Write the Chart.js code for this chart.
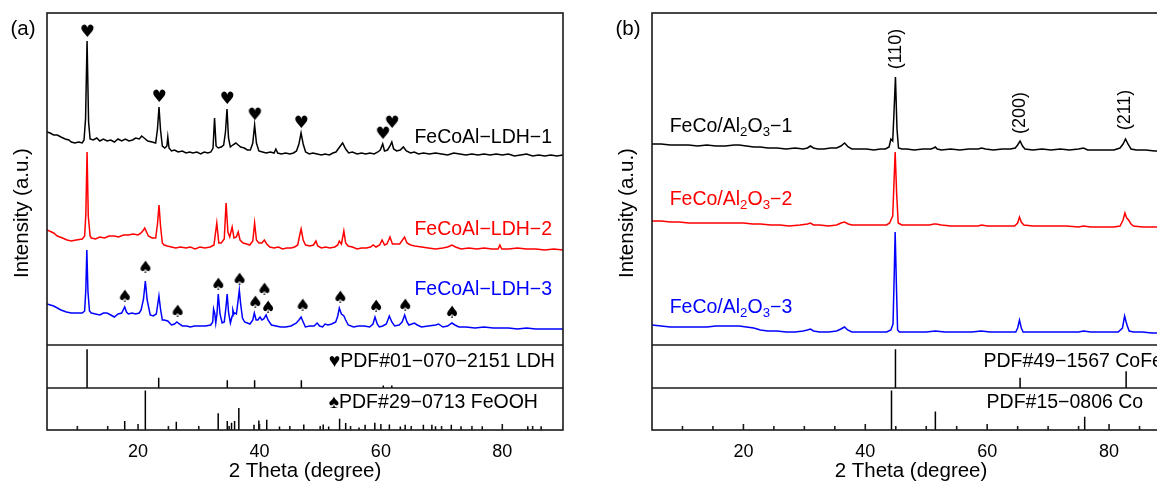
<!DOCTYPE html>
<html>
<head>
<meta charset="utf-8">
<script src="https://cdn.jsdelivr.net/npm/chart.js@4.4.0/dist/chart.umd.min.js"></script>
<style>
html, body { margin: 0; padding: 0; background: #fff; overflow: hidden; width: 1157px; height: 484px; }
#wrap { position: relative; width: 1157px; height: 484px; overflow: hidden; }
canvas { position: absolute; top: 0; }
#ca { left: 0; }
#cb { left: 600px; }
</style>
</head>
<body>
<div id="wrap">
  <canvas id="ca" width="600" height="484"></canvas>
  <canvas id="cb" width="600" height="484"></canvas>
</div>
<script>
// x axis: 2 Theta (degree)
var xTicks = [20, 40, 60, 80];
var xMinor = [10, 15, 25, 30, 35, 45, 50, 55, 65, 70, 75, 85];

// ---- panel (a): FeCoAl-LDH, [2theta, intensity a.u.] ----
var ldh1 = [[5.0,212],[5.5,211],[6.1,209],[6.7,209],[7.3,207],[8.0,205],[8.6,204],[9.0,202],[9.6,201],[10.2,202],[10.8,201],[11.1,204],[11.35,225],[11.6,303],[11.85,222],[12.1,205],[12.6,204],[13.2,206],[13.7,203],[14.3,205],[14.9,203],[15.5,204],[16.1,202],[16.7,205],[17.3,203],[17.9,205],[18.5,203],[19.1,204],[19.6,206],[20.2,205],[20.6,208],[21.0,206],[21.6,203],[22.3,202],[22.9,201],[23.2,215],[23.45,237],[23.7,214],[24.0,198],[24.4,196],[24.75,198],[24.9,207],[25.1,196],[25.5,193],[26.0,194],[26.6,192],[27.3,193],[27.9,191],[28.5,192],[29.0,191],[29.7,192],[30.3,190],[30.9,192],[31.5,191],[32.0,192],[32.35,196],[32.6,226],[32.85,198],[33.2,196],[33.7,197],[34.1,199],[34.4,212],[34.65,235],[34.9,206],[35.2,197],[35.6,199],[36.1,201],[36.5,199],[36.9,197],[37.5,196],[38.0,194],[38.5,194],[38.9,201],[39.2,219],[39.5,201],[39.9,193],[40.5,192],[41.1,191],[41.8,192],[42.4,191],[42.7,195],[43.0,191],[43.6,190],[44.3,191],[45.0,190],[45.6,191],[46.1,193],[46.5,200],[46.85,211],[47.2,200],[47.6,192],[48.2,190],[48.8,191],[49.5,190],[50.2,189],[50.8,190],[51.5,189],[52.1,191],[52.6,192],[53.2,197],[53.7,201],[54.2,195],[54.7,191],[55.3,192],[56.1,190],[56.8,191],[57.5,190],[58.2,191],[58.9,190],[59.5,192],[59.9,194],[60.3,200],[60.6,193],[61.1,194],[61.5,198],[61.8,202],[62.1,195],[62.6,193],[63.2,194],[63.7,197],[64.2,193],[64.9,191],[65.5,192],[66.2,190],[67.0,191],[68.0,190],[69.0,191],[70.0,190],[71.0,189],[72.0,191],[73.0,190],[74.0,189],[75.0,190],[76.0,189],[77.0,190],[78.0,189],[79.0,190],[80.0,189],[81.0,190],[82.0,188],[83.0,189],[84.0,190],[85.0,188],[86.0,189],[87.0,188],[88.0,189],[89.0,188],[90.0,189]];
var ldh2 = [[5.0,114],[6.1,111],[6.7,108],[7.55,106],[8.3,104],[9.0,103],[9.8,104],[10.8,105],[11.2,108],[11.4,130],[11.6,192],[11.8,128],[12.1,108],[12.3,106],[13.0,105],[13.7,107],[14.5,106],[15.2,108],[16.1,108],[16.8,107],[17.6,109],[18.4,109],[19.2,110],[20.0,109],[20.5,111],[20.9,114],[21.1,116],[21.4,112],[21.7,108],[22.3,106],[22.9,106],[23.2,120],[23.45,139],[23.7,118],[24.0,101],[24.3,99],[24.8,98],[25.5,97],[26.2,96],[27.0,97],[27.9,96],[28.6,97],[29.4,95],[30.2,97],[31.0,96],[31.9,97],[32.5,99],[32.97,121],[33.3,101],[33.7,101],[34.2,105],[34.5,141],[34.8,112],[35.1,107],[35.5,117],[35.8,106],[36.2,107],[36.5,112],[36.8,104],[37.3,101],[37.9,100],[38.4,99],[38.9,103],[39.2,121],[39.5,104],[39.9,101],[40.4,101],[40.8,104],[41.2,100],[41.7,97],[42.4,96],[43.1,97],[43.8,95],[44.5,96],[45.2,96],[45.8,97],[46.3,99],[46.6,108],[46.86,115],[47.2,104],[47.6,99],[48.3,98],[48.9,99],[49.3,103],[49.6,98],[50.2,96],[50.9,97],[51.6,96],[52.4,97],[52.9,99],[53.15,103],[53.5,100],[53.9,113],[54.2,101],[54.6,98],[55.3,97],[56.1,95],[56.8,96],[57.6,96],[58.3,97],[58.74,99],[59.2,97],[59.8,99],[60.2,104],[60.6,99],[61.0,100],[61.5,107],[61.9,100],[62.3,100],[63.1,100],[63.9,107],[64.3,101],[64.9,99],[65.6,98],[66.7,97],[67.8,96],[69.0,95],[70.2,96],[71.0,97],[71.7,99],[72.3,97],[73.2,95],[74.5,96],[75.8,95],[77.0,96],[78.3,95],[79.3,95],[79.6,99],[79.9,95],[81.0,95],[82.5,96],[84.0,95],[85.5,95],[87.0,94],[88.5,95],[90.0,94]];
var ldh3 = [[5.0,40],[6.1,38],[7.3,34],[8.2,32],[9.0,31],[9.9,31],[10.8,31],[11.2,33],[11.4,55],[11.56,94],[11.75,52],[12.0,33],[12.3,31],[13.0,30],[13.7,29],[14.3,31],[14.9,31],[15.5,29],[16.1,27],[16.7,30],[17.3,31],[17.8,37],[18.1,32],[18.4,30],[19.0,31],[19.6,30],[20.2,31],[20.5,34],[20.9,45],[21.2,63],[21.5,44],[22.0,29],[22.5,28],[23.0,30],[23.2,38],[23.44,48],[23.7,35],[24.0,24],[24.3,24],[24.9,23],[25.2,21],[25.5,19],[26.0,20],[26.4,22],[26.8,20],[27.3,18],[28.0,18],[28.6,17],[29.3,18],[30.2,18],[31.1,18],[31.97,19],[32.3,22],[32.44,35],[32.65,30],[32.8,21],[33.0,30],[33.21,50],[33.5,30],[33.85,21],[34.2,22],[34.5,38],[34.68,50],[34.9,32],[35.21,21],[35.5,28],[35.62,34],[35.8,30],[35.97,31],[36.2,30],[36.45,42],[36.68,54],[36.9,40],[37.2,26],[37.56,22],[38.0,21],[38.44,20],[38.9,24],[39.15,31],[39.45,24],[39.74,24],[40.09,27],[40.4,24],[40.7,25],[41.09,29],[41.4,24],[41.97,19],[42.7,18],[43.5,17],[44.3,17],[45.2,18],[46.09,21],[46.5,24],[46.86,27],[47.2,22],[47.56,17],[48.3,18],[49.0,18],[49.5,21],[49.9,18],[50.4,17],[50.8,20],[51.3,19],[51.9,20],[52.56,22],[52.9,28],[53.15,36],[53.5,30],[53.91,28],[54.2,24],[54.62,19],[55.5,17],[56.3,18],[57.27,18],[58.15,17],[58.7,20],[59.03,27],[59.4,20],[59.74,17],[60.3,18],[60.9,20],[61.39,28],[61.8,22],[62.27,18],[63.0,19],[63.5,22],[63.92,29],[64.3,22],[64.62,19],[65.1,20],[65.5,21],[66.0,19],[66.68,17],[67.8,18],[69.04,19],[69.5,20],[70.21,17],[71.0,18],[71.69,21],[72.2,19],[72.87,17],[74.0,17],[75.5,16],[77.0,17],[78.5,16],[79.63,16],[81.0,16],[82.5,15],[84.0,16],[85.5,15],[87.0,15],[88.5,15],[90.0,15]];
// reference patterns: [2theta, relative height %]
var pdfLdh = [[11.6,90],[23.4,24],[34.7,18],[39.2,18],[46.9,18],[60.4,6],[61.8,6]];
var pdfFeooh = [[17.8,21],[21.2,92],[26.3,19],[33.2,39],[34.7,21],[35.4,17],[35.9,21],[36.6,51],[39.1,12],[39.9,22],[41.2,24],[43.3,8],[47.3,13],[50.5,13],[51.4,8],[53.2,26],[54.2,16],[56.4,6],[57.4,12],[59.0,17],[61.4,13],[63.2,8],[64.0,12],[67.0,12],[68.4,12],[69.0,9],[71.6,12],[73.2,9],[76.7,9],[84.2,9],[86.4,9]];
// peak markers
var heartPeaks = [[11.6,312],[23.45,247],[34.65,245],[39.2,229],[46.85,221],[60.3,210],[61.8,221]];
var spadePeaks = [[17.8,47],[21.2,76],[26.5,32],[33.2,59],[36.7,64],[39.3,41],[40.8,54],[41.4,36],[47.1,38],[53.3,46],[59.2,37],[64.0,38],[71.7,31]];

// ---- panel (b): FeCo/Al2O3 ----
var feco1 = [[5.0,200],[6.5,200],[8.0,199],[9.5,199],[11.0,199],[12.5,198],[14.0,199],[15.5,198],[17.0,198],[18.5,199],[19.3,199],[20.5,198],[21.7,197],[22.8,197],[24.0,196],[25.5,196],[27.0,195],[28.5,196],[29.8,195],[30.5,196],[31.0,198],[31.5,196],[32.2,195],[33.2,195],[34.3,196],[35.3,196],[36.0,198],[36.6,201],[37.2,197],[37.8,195],[39.0,195],[40.2,195],[41.4,194],[42.5,195],[43.3,195],[43.9,197],[44.2,205],[44.5,203],[44.7,230],[44.95,267],[45.2,215],[45.45,196],[46.0,195],[46.8,195],[48.0,194],[49.5,195],[50.8,195],[51.2,196],[51.5,197],[51.8,195],[52.5,194],[54.0,195],[55.5,194],[57.0,195],[58.5,195],[59.1,196],[59.7,195],[61.0,194],[62.5,195],[63.8,195],[64.6,196],[65.0,199],[65.4,203],[65.8,198],[66.2,195],[67.5,194],[69.0,195],[70.5,194],[72.0,195],[73.5,194],[75.0,195],[75.8,196],[76.5,194],[78.0,194],[79.5,194],[80.8,194],[81.8,196],[82.3,200],[82.7,205],[83.1,200],[83.6,195],[84.5,194],[86.0,194],[87.5,193],[89.0,193],[90.0,193]];
var feco2 = [[5.0,123],[6.5,123],[8.0,122],[9.5,122],[11.0,121],[12.5,121],[14.0,121],[15.5,121],[17.0,121],[18.5,121],[20.0,121],[21.5,120],[22.8,120],[24.5,119],[26.0,119],[27.5,118],[29.3,119],[30.5,120],[31.0,121],[31.5,119],[32.5,119],[34.0,118],[35.3,119],[36.0,121],[36.6,122],[37.2,120],[37.8,119],[39.5,119],[41.0,119],[42.5,119],[43.5,119],[44.0,121],[44.2,124],[44.5,128],[44.7,160],[44.9,192],[45.15,150],[45.4,121],[46.0,119],[47.5,119],[49.0,119],[50.5,119],[51.3,120],[51.6,120],[52.5,119],[54.0,118],[55.5,118],[57.0,118],[58.5,118],[59.1,119],[60.0,118],[61.5,118],[63.0,118],[64.5,118],[65.0,121],[65.3,127],[65.6,122],[66.0,119],[67.5,118],[69.0,118],[71.0,118],[73.0,118],[75.0,117],[75.8,118],[77.0,117],[79.0,117],[80.8,117],[81.8,118],[82.3,124],[82.6,131],[82.9,126],[83.2,124],[83.6,120],[84.0,118],[85.5,117],[87.0,117],[88.5,117],[90.0,117]];
var feco3 = [[5.0,19],[6.5,18],[8.0,17],[9.5,17],[11.0,17],[12.5,17],[14.0,17],[15.5,18],[17.0,18],[18.5,18],[19.3,18],[20.5,17],[21.7,16],[22.8,14],[24.0,13],[25.5,13],[27.0,12],[28.5,12],[29.8,13],[30.5,14],[31.0,15],[31.5,13],[32.5,12],[34.0,12],[35.3,13],[36.0,15],[36.6,17],[37.1,14],[37.8,12],[39.5,12],[41.0,12],[42.5,12],[43.5,12],[44.2,14],[44.55,20],[44.75,70],[44.9,112],[45.1,60],[45.3,14],[45.6,12],[47.0,12],[48.5,12],[50.0,12],[51.5,13],[53.0,12],[54.5,12],[56.0,12],[57.5,12],[59.0,13],[60.5,12],[62.0,12],[63.5,12],[64.7,12],[65.0,16],[65.3,24],[65.6,16],[65.9,12],[67.5,12],[69.0,12],[70.5,12],[72.0,12],[73.5,12],[75.0,12],[75.8,13],[77.0,12],[78.5,12],[80.0,12],[81.5,12],[82.2,16],[82.55,28],[82.8,22],[83.0,18],[83.3,13],[84.0,12],[85.5,12],[87.0,11],[88.5,11],[90.0,11]];
var pdfCoFe = [[44.95,90],[65.4,24],[82.8,39]];
var pdfCo = [[44.3,92],[51.5,43],[76.0,31]];

// vertical layout of the stacked panels (y axis units)
var MAIN = 86, SUB1 = 42, SUB2 = 0, SUBH = 43, YMAX = 417;
var FONT = '"Liberation Sans", Arial, sans-serif';

function curve(arr, color) {
  return {
    data: arr.map(function(p) { return {x: p[0], y: p[1] + MAIN}; }),
    borderColor: color, borderWidth: 1.5, pointRadius: 0, tension: 0, fill: false
  };
}
function sticks(arr, base) {
  var d = [];
  arr.forEach(function(p) {
    d.push({x: p[0], y: base});
    d.push({x: p[0], y: base + p[1] / 100 * SUBH});
    d.push({x: p[0], y: null});
  });
  return {data: d, borderColor: '#000', borderWidth: 1.5, pointRadius: 0, spanGaps: false};
}
function glyph(ch) {
  var c = document.createElement('canvas');
  c.width = 20; c.height = 20;
  var g = c.getContext('2d');
  g.fillStyle = '#000';
  g.font = '17px "DejaVu Sans"';
  g.textAlign = 'center';
  g.textBaseline = 'middle';
  g.fillText(ch, 10, 11);
  return c;
}
function markers(arr, img) {
  return {
    data: arr.map(function(p) { return {x: p[0], y: p[1] + MAIN}; }),
    showLine: false, pointStyle: img, pointRadius: 8, borderWidth: 0
  };
}

// text drawn with optional subscripts: parts = [[text, isSub], ...]
function richText(ctx, parts, x, y, size) {
  var cx = x;
  parts.forEach(function(p) {
    ctx.font = (p[1] ? size * 0.68 : size) + 'px ' + FONT;
    ctx.fillText(p[0], cx, y + (p[1] ? size * 0.28 : 0));
    cx += ctx.measureText(p[0]).width;
  });
}

var decor = {
  id: 'decor',
  afterDraw: function(chart, args, o) {
    var ctx = chart.ctx, a = chart.chartArea, xs = chart.scales.x, ys = chart.scales.y;
    ctx.save();
    ctx.strokeStyle = '#1a1a1a';
    ctx.lineWidth = 1.6;
    ctx.strokeRect(a.left, a.top, a.right - a.left, a.bottom - a.top);
    ctx.beginPath();
    [SUB1 + SUBH, SUB1].forEach(function(v) {
      var py = ys.getPixelForValue(v);
      ctx.moveTo(a.left, py); ctx.lineTo(a.right, py);
    });
    xTicks.forEach(function(t) {
      var px = xs.getPixelForValue(t);
      ctx.moveTo(px, a.bottom); ctx.lineTo(px, a.bottom - 6);
    });
    xMinor.forEach(function(t) {
      var px = xs.getPixelForValue(t);
      ctx.moveTo(px, a.bottom); ctx.lineTo(px, a.bottom - 4);
    });
    ctx.stroke();

    ctx.textBaseline = 'middle';
    o.labels.forEach(function(l) {
      var px = xs.getPixelForValue(l.x), py = ys.getPixelForValue(l.y);
      ctx.fillStyle = l.c || '#000';
      ctx.save();
      ctx.translate(px, py);
      if (l.rot) ctx.rotate(-Math.PI / 2);
      ctx.textAlign = l.al || 'left';
      if (l.parts) richText(ctx, l.parts, 0, 0, l.s || 19.5);
      else { ctx.font = (l.s || 19.5) + 'px ' + FONT; ctx.fillText(l.t, 0, 0); }
      ctx.restore();
    });
    ctx.fillStyle = '#000';
    ctx.textAlign = 'center';
    ctx.font = '20.5px ' + FONT;
    ctx.fillText(o.letter, o.letterX, 29);
    ctx.save();
    ctx.translate(o.titleX, 213);
    ctx.rotate(-Math.PI / 2);
    ctx.fillText('Intensity (a.u.)', 0, 0);
    ctx.restore();
    ctx.restore();
  }
};

function panel(id, datasets, pad, decorOpts) {
  return new Chart(document.getElementById(id), {
    type: 'line',
    data: {datasets: datasets},
    plugins: [decor],
    options: {
      responsive: false,
      animation: false,
      events: [],
      layout: {padding: pad},
      plugins: {legend: {display: false}, tooltip: {enabled: false}, decor: decorOpts},
      scales: {
        x: {
          type: 'linear', min: 5, max: 90,
          grid: {display: false, drawTicks: false},
          border: {display: false},
          afterBuildTicks: function(s) { s.ticks = xTicks.map(function(v) { return {value: v}; }); },
          afterFit: function(s) { s.height = 54; },
          ticks: {color: '#000', padding: 11, font: {family: FONT, size: 18}},
          title: {display: true, text: '2 Theta (degree)', color: '#000', padding: {top: 0, bottom: 0}, font: {family: FONT, size: 20.5}}
        },
        y: {type: 'linear', min: 0, max: YMAX, display: false}
      }
    }
  });
}

var heart = glyph('\u2665'), spade = glyph('\u2660');

panel('ca', [
  curve(ldh1, '#000000'), curve(ldh2, '#ff0000'), curve(ldh3, '#0000ff'),
  sticks(pdfLdh, SUB1), sticks(pdfFeooh, SUB2),
  markers(heartPeaks, heart), markers(spadePeaks, spade)
], {left: 47, right: 37, top: 13, bottom: 0}, {
  letter: '(a)', letterX: 23, titleX: 22,
  labels: [
    {t: 'FeCoAl\u2212LDH\u22121', x: 88.2, y: 292, c: '#000', al: 'right'},
    {t: 'FeCoAl\u2212LDH\u22122', x: 88.2, y: 200, c: '#ff0000', al: 'right'},
    {t: 'FeCoAl\u2212LDH\u22123', x: 88.2, y: 140, c: '#0000ff', al: 'right'},
    {t: '\u2665PDF#01\u2212070\u22122151 LDH', x: 51.4, y: 68},
    {t: '\u2660PDF#29\u22120713 FeOOH', x: 51.4, y: 27}
  ]
});

panel('cb', [
  curve(feco1, '#000000'), curve(feco2, '#ff0000'), curve(feco3, '#0000ff'),
  sticks(pdfCoFe, SUB1), sticks(pdfCo, SUB2)
], {left: 52, right: 30, top: 13, bottom: 0}, {
  letter: '(b)', letterX: 28, titleX: 27,
  labels: [
    {parts: [['FeCo/Al', 0], ['2', 1], ['O', 0], ['3', 1], ['\u22121', 0]], x: 7.9, y: 303, c: '#000'},
    {parts: [['FeCo/Al', 0], ['2', 1], ['O', 0], ['3', 1], ['\u22122', 0]], x: 7.9, y: 230, c: '#ff0000'},
    {parts: [['FeCo/Al', 0], ['2', 1], ['O', 0], ['3', 1], ['\u22123', 0]], x: 7.9, y: 122, c: '#0000ff'},
    {t: '(110)', x: 45.0, y: 381, rot: true, al: 'center', s: 18},
    {t: '(200)', x: 65.4, y: 317, rot: true, al: 'center', s: 18},
    {t: '(211)', x: 82.7, y: 320, rot: true, al: 'center', s: 18},
    {t: 'PDF#49\u22121567 CoFe', x: 59.4, y: 68},
    {t: 'PDF#15\u22120806 Co', x: 59.9, y: 27}
  ]
});
</script>
</body>
</html>
